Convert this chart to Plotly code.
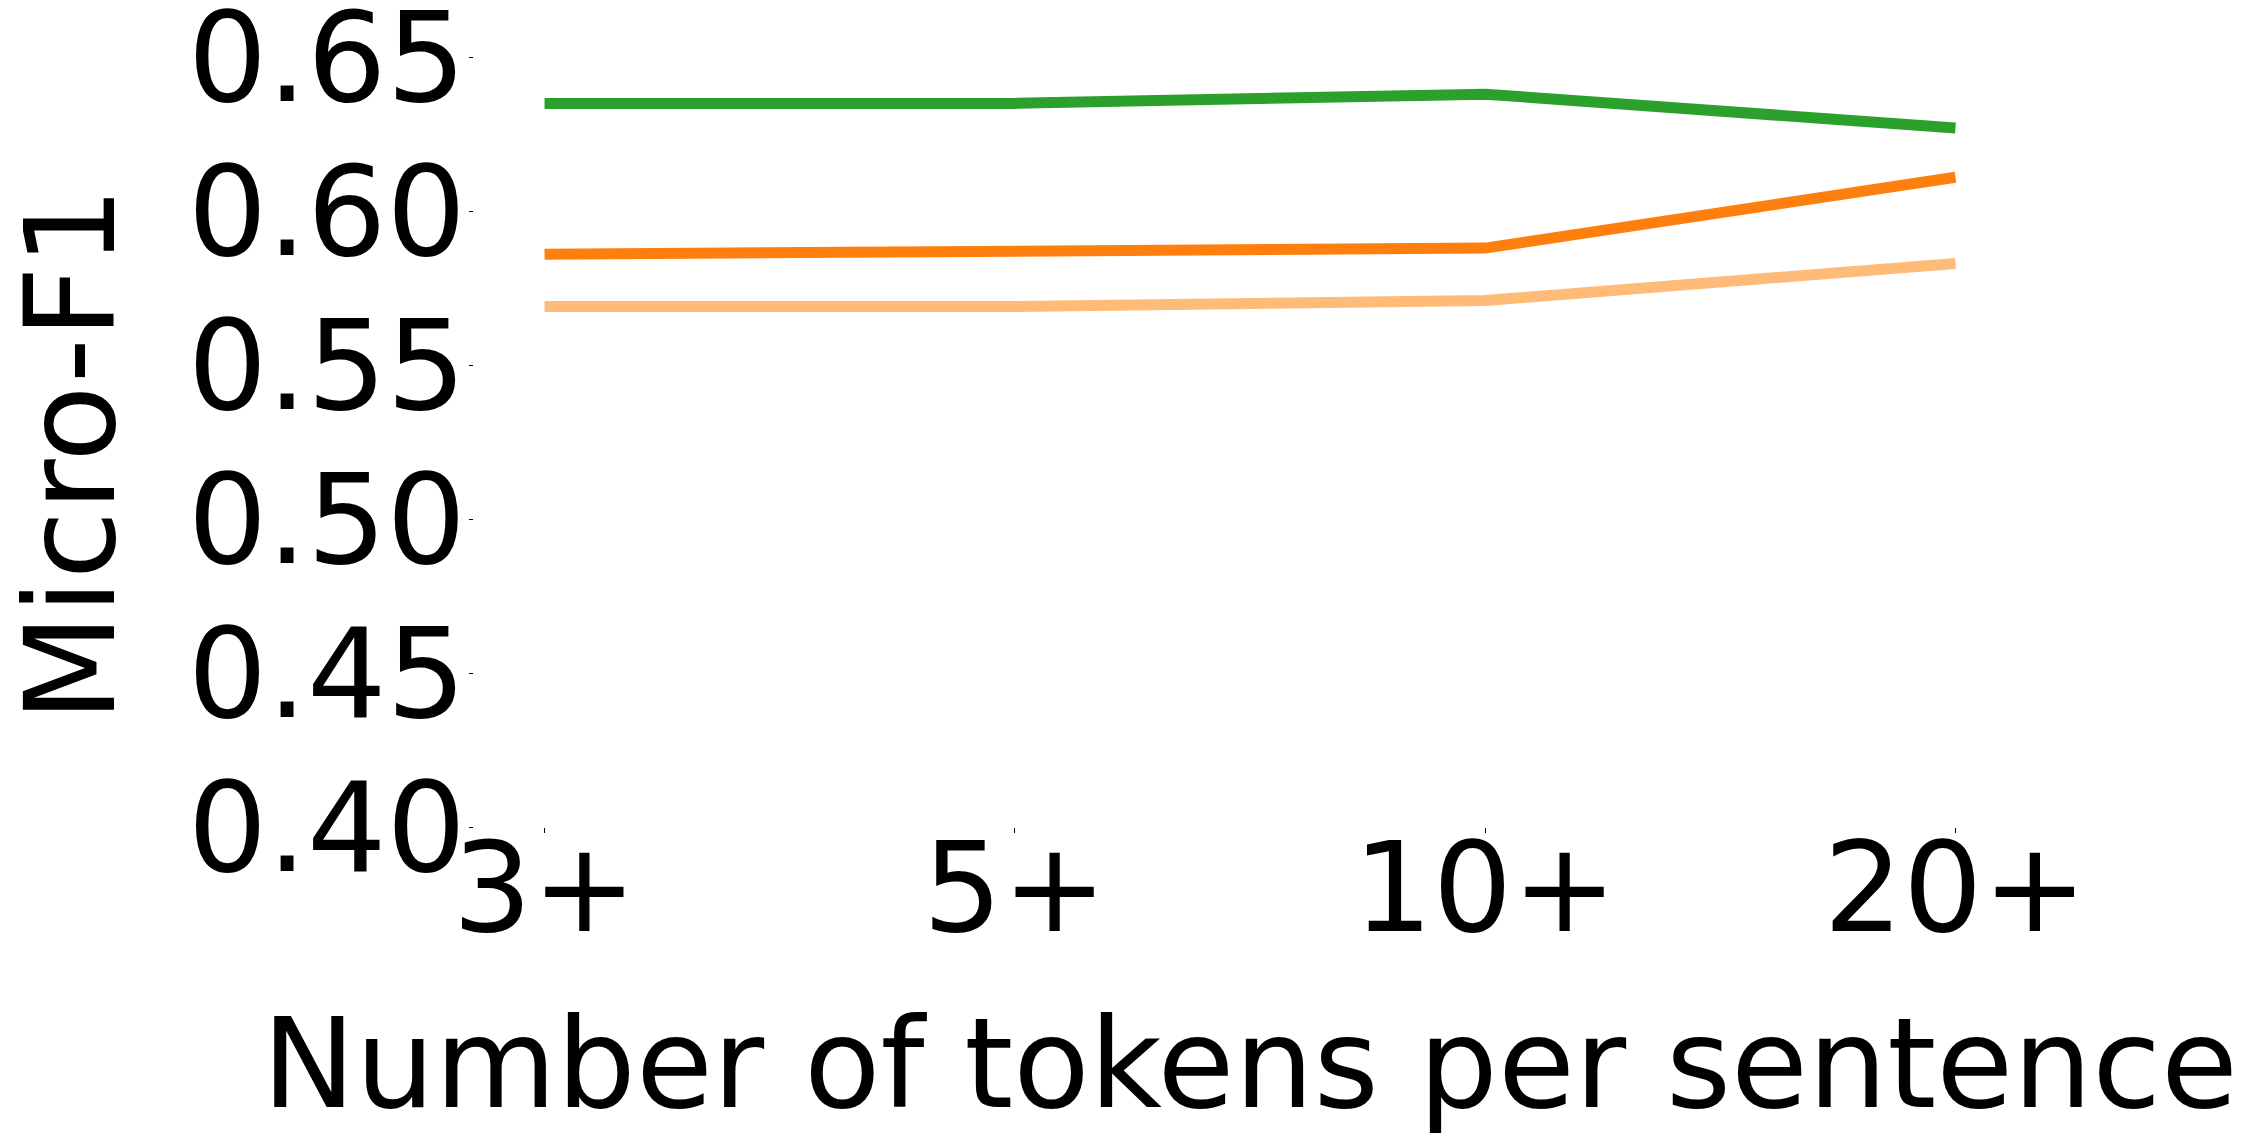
import plotly.graph_objects as go

# token-length buckets and micro-F1 per model
buckets = ["3+", "5+", "10+", "20+"]
green_vals = [0.635, 0.635, 0.638, 0.627]
orange_vals = [0.586, 0.587, 0.588, 0.611]
light_vals = [0.569, 0.569, 0.571, 0.583]

colors = ["#2ca02c", "#ff7f0e", "#ffbb78"]
series = [green_vals, orange_vals, light_vals]

fig = go.Figure()
for vals, col in zip(series, colors):
    fig.add_trace(go.Scatter(x=buckets, y=vals, mode="lines",
                             line=dict(color=col, width=11),
                             showlegend=False))

font_big = dict(family="DejaVu Sans", size=125, color="black")

# the page body has an 8px margin, so the figure is a bit smaller than the window
fig.update_layout(
    width=2231, height=1128,
    margin=dict(l=466, r=213, t=3, b=309, autoexpand=False),
    plot_bgcolor="white", paper_bgcolor="white",
    font=font_big,
    xaxis=dict(type="category", range=[-0.15, 3.15],
               showgrid=False, zeroline=False, showline=False,
               ticks="outside", ticklen=5, tickwidth=1, tickcolor="black",
               tickfont=font_big, ticklabelstandoff=-52,
               ticklabeloverflow="allow",
               title=dict(text="Number of tokens per sentence", font=font_big,
                          standoff=62)),
    yaxis=dict(range=[0.40, 0.665], tickvals=[0.40, 0.45, 0.50, 0.55, 0.60, 0.65],
               tickformat=".2f",
               showgrid=False, zeroline=False, showline=False,
               ticks="outside", ticklen=4, tickwidth=1, tickcolor="black",
               tickfont=font_big, ticklabelstandoff=-22,
               ticklabeloverflow="allow"),
)

# y title sits a little below the middle of the axis in the original
fig.add_annotation(text="Micro-F1", textangle=-90, font=font_big,
                   xref="paper", yref="paper", x=-0.2596, y=0.456,
                   xanchor="center", yanchor="middle", showarrow=False)

fig.write_html("out.html")
